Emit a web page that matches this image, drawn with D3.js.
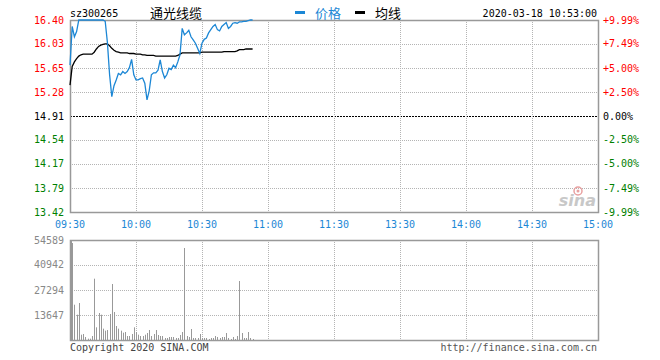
<!DOCTYPE html>
<html><head><meta charset="utf-8">
<script src="https://cdn.jsdelivr.net/npm/d3@7/dist/d3.min.js"></script>
<style>
html,body{margin:0;padding:0;background:#fff;}
svg{display:block;}
.mono{font-family:"DejaVu Sans Mono","Liberation Mono",monospace;font-size:10px;}
</style></head>
<body>
<script>
// ---- data ----
const code = "sz300265";
const stockName = "通光线缆";
const timestamp = "2020-03-18 10:53:00";
const prevClose = 14.91;
const timeLabels = ["09:30","10:00","10:30","11:00","11:30","13:30","14:00","14:30","15:00"];
const priceTicks = [16.40,16.03,15.65,15.28,14.91,14.54,14.17,13.79,13.42];
const pctTicks = ["+9.99%","+7.49%","+5.00%","+2.50%","0.00%","-2.50%","-5.00%","-7.49%","-9.99%"];
const volTicks = [54589,40942,27294,13647];
// price per minute from 09:30 (index 0) to 10:53 (index 83)
const price = [15.70,16.30,16.14,16.22,16.40,16.40,16.40,16.40,16.40,16.40,
  16.40,16.40,16.40,16.40,16.40,16.40,16.38,16.05,15.55,15.21,
  15.38,15.47,15.57,15.55,15.60,15.57,15.60,15.66,15.79,15.55,
  15.47,15.47,15.49,15.50,15.42,15.16,15.30,15.55,15.58,15.58,
  15.62,15.78,15.60,15.50,15.55,15.65,15.63,15.70,15.66,15.75,
  15.86,16.27,16.17,16.20,16.24,16.14,16.09,16.04,15.96,15.88,
  16.04,16.10,16.12,16.20,16.25,16.30,16.33,16.25,16.23,16.30,
  16.33,16.36,16.27,16.30,16.35,16.36,16.35,16.37,16.37,16.38,
  16.38,16.39,16.40,16.40];
const avgPrice = [15.39,15.68,15.75,15.80,15.84,15.86,15.87,15.87,15.87,15.87,
  15.87,15.90,15.95,15.99,16.01,16.02,16.03,16.03,16.00,15.96,
  15.93,15.91,15.90,15.89,15.89,15.89,15.89,15.88,15.88,15.88,
  15.87,15.87,15.87,15.86,15.86,15.85,15.85,15.85,15.85,15.84,
  15.84,15.84,15.84,15.84,15.84,15.84,15.84,15.84,15.84,15.85,
  15.87,15.89,15.89,15.89,15.89,15.89,15.89,15.89,15.89,15.89,
  15.90,15.90,15.90,15.90,15.90,15.90,15.90,15.90,15.90,15.90,
  15.91,15.91,15.91,15.91,15.91,15.91,15.92,15.94,15.94,15.94,
  15.95,15.95,15.95,15.95];
const volume = [54589,52950,19270,13830,20200,2900,3280,1640,730,730,
  2180,33470,6920,14740,13830,6190,5100,5460,14190,30570,
  15290,7640,6190,5100,4000,4370,2180,2180,3280,6920,
  4370,2910,2180,2180,2910,3820,5460,2180,3280,5460,
  2730,2180,2180,1090,1090,1640,1640,1640,1090,1090,
  2730,4370,50220,2180,1640,6000,1090,1090,1090,3280,
  1090,1090,1090,550,1090,1090,2180,1640,1090,1640,
  1640,3820,1090,550,1640,550,2180,32200,3820,1090,
  1090,4370,1090,550];

// ---- layout ----
const W = 660, H = 360;
const L = 70, R = 598;
const pTop = 20, pBot = 212;
const vTop = 240, vBot = 340;

const svg = d3.select("body").append("svg").attr("width", W).attr("height", H);

const x = d3.scaleLinear().domain([0, 240]).range([L, R]);
const y = d3.scaleLinear().domain([priceTicks[priceTicks.length-1], priceTicks[0]]).range([pBot, pTop]);
const yv = d3.scaleLinear().domain([0, volTicks[0]]).range([vBot, vTop]);
const tickMinutes = timeLabels.map((d, i) => i * 30);

const gridColor = "#b4b4b4";
const borderColor = "#999";

// ---- price panel grid ----
const pg = svg.append("g");
pg.selectAll("line.h").data(priceTicks.slice(1, -1)).join("line")
  .attr("x1", L).attr("x2", R)
  .attr("y1", d => Math.round(y(d)) + 0.5).attr("y2", d => Math.round(y(d)) + 0.5)
  .attr("stroke", d => d === prevClose ? "#000" : gridColor)
  .attr("stroke-dasharray", d => d === prevClose ? "2,1" : "1,1");
pg.selectAll("line.v").data(tickMinutes.slice(1, -1)).join("line")
  .attr("x1", d => Math.round(x(d)) + 0.5).attr("x2", d => Math.round(x(d)) + 0.5)
  .attr("y1", pTop).attr("y2", pBot)
  .attr("stroke", gridColor).attr("stroke-dasharray", "1,1");
pg.append("rect").attr("x", L + 0.5).attr("y", pTop + 0.5)
  .attr("width", R - L).attr("height", pBot - pTop)
  .attr("fill", "none").attr("stroke", borderColor).attr("stroke-width", 1.5);

// sina logo
const logo = svg.append("g");
logo.append("circle").attr("cx", 578).attr("cy", 191).attr("r", 4).attr("fill", "none").attr("stroke", "#e8a0a0").attr("stroke-width", 1.5);
logo.append("circle").attr("cx", 578).attr("cy", 191).attr("r", 1.5).attr("fill", "#e8a0a0");
logo.append("text").attr("x", 596).attr("y", 206).attr("text-anchor", "end")
  .attr("font-family", "DejaVu Sans").attr("font-style", "italic").attr("font-weight", "bold")
  .attr("font-size", 16).attr("fill", "#c8c8c8").text("sina");

// ---- price & average lines ----
const line = d3.line().x((d, i) => x(i)).y(d => y(d));
svg.append("path").datum(avgPrice).attr("d", line)
  .attr("fill", "none").attr("stroke", "#000").attr("stroke-width", 1.3);
svg.append("path").datum(price).attr("d", line)
  .attr("fill", "none").attr("stroke", "#1c87d5").attr("stroke-width", 1.3);

// ---- price labels ----
svg.append("g").selectAll("text").data(priceTicks).join("text")
  .attr("class", "mono").attr("x", 64).attr("y", d => y(d)).attr("dy", "0.35em")
  .attr("text-anchor", "end")
  .attr("fill", d => d > prevClose ? "#f00" : (d < prevClose ? "#008000" : "#000"))
  .text(d => d.toFixed(2));
svg.append("g").selectAll("text").data(pctTicks).join("text")
  .attr("class", "mono").attr("x", 603).attr("y", (d, i) => y(priceTicks[i])).attr("dy", "0.35em")
  .attr("fill", d => d[0] === "+" ? "#f00" : (d[0] === "-" ? "#008000" : "#000"))
  .text(d => d);
svg.append("g").selectAll("text").data(timeLabels).join("text")
  .attr("class", "mono").attr("x", (d, i) => x(tickMinutes[i])).attr("y", 224).attr("dy", "0.35em")
  .attr("text-anchor", "middle").attr("fill", "#1c87d5").text(d => d);

// ---- header ----
svg.append("text").attr("class", "mono").attr("x", 70).attr("y", 13).attr("dy", "0.35em").attr("fill", "#000").text(code);
svg.append("text").attr("x", 150).attr("y", 13).attr("dy", "0.36em")
  .attr("font-family", "Noto Sans CJK SC").attr("font-size", 13).attr("fill", "#000").text(stockName);
svg.append("rect").attr("x", 295).attr("y", 11).attr("width", 10).attr("height", 3).attr("fill", "#1c87d5");
svg.append("text").attr("x", 315).attr("y", 13).attr("dy", "0.36em")
  .attr("font-family", "Noto Sans CJK SC").attr("font-size", 13).attr("fill", "#1c87d5").text("价格");
svg.append("rect").attr("x", 355).attr("y", 11).attr("width", 10).attr("height", 3).attr("fill", "#000");
svg.append("text").attr("x", 375).attr("y", 13).attr("dy", "0.36em")
  .attr("font-family", "Noto Sans CJK SC").attr("font-size", 13).attr("fill", "#000").text("均线");
svg.append("text").attr("class", "mono").attr("x", 597).attr("y", 13).attr("dy", "0.35em")
  .attr("text-anchor", "end").attr("fill", "#000").text(timestamp);

// ---- volume panel ----
const vg = svg.append("g");
vg.selectAll("line.h").data(volTicks.slice(1)).join("line")
  .attr("x1", L).attr("x2", R)
  .attr("y1", d => Math.round(yv(d)) + 0.5).attr("y2", d => Math.round(yv(d)) + 0.5)
  .attr("stroke", gridColor).attr("stroke-dasharray", "1,1");
vg.selectAll("line.v").data(tickMinutes.slice(1, -1)).join("line")
  .attr("x1", d => Math.round(x(d)) + 0.5).attr("x2", d => Math.round(x(d)) + 0.5)
  .attr("y1", vTop).attr("y2", vBot)
  .attr("stroke", gridColor).attr("stroke-dasharray", "1,1");
vg.selectAll("rect.bar").data(volume).join("rect")
  .attr("x", (d, i) => Math.round(x(i)) + (i === 0 ? 1 : 0)).attr("width", 1)
  .attr("y", d => yv(d)).attr("height", d => vBot - yv(d))
  .attr("fill", "#999");
vg.append("rect").attr("x", L + 0.5).attr("y", vTop + 0.5)
  .attr("width", R - L).attr("height", vBot - vTop)
  .attr("fill", "none").attr("stroke", borderColor).attr("stroke-width", 1.5);
svg.append("g").selectAll("text").data(volTicks).join("text")
  .attr("class", "mono").attr("x", 64).attr("y", d => yv(d)).attr("dy", "0.35em")
  .attr("text-anchor", "end").attr("fill", "#888").text(d => d);

svg.append("text").attr("class", "mono").attr("x", 70).attr("y", 347).attr("dy", "0.35em")
  .attr("fill", "#444").text("Copyright 2020 SINA.COM");
svg.append("text").attr("class", "mono").attr("x", 597).attr("y", 347).attr("dy", "0.35em")
  .attr("text-anchor", "end").attr("fill", "#555").text("http://finance.sina.com.cn");
</script>
</body></html>
